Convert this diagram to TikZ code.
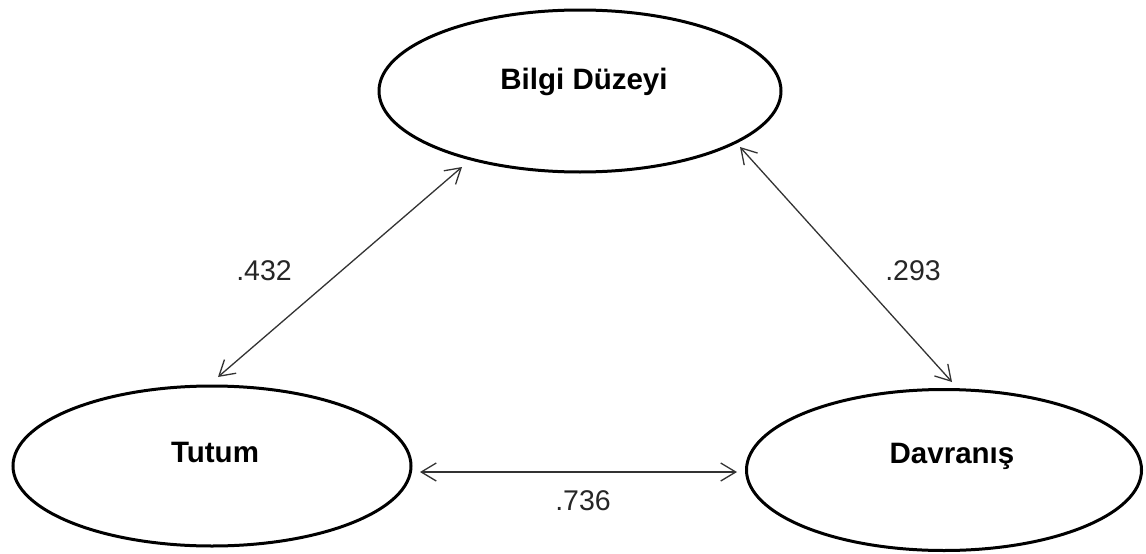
\documentclass[tikz,border=0pt]{standalone}
\usepackage{fontspec}
\setmainfont{Liberation Sans}
\usetikzlibrary{arrows.meta,calc,shapes.geometric}
\begin{document}
\begin{tikzpicture}[x=1pt,y=-1pt,
  latent/.style={draw=black,line width=3pt,ellipse,inner sep=0pt},
  lbl/.style={anchor=base,font=\fontsize{29.5}{35}\selectfont\bfseries},
  num/.style={anchor=base,font=\fontsize{28.5}{34}\selectfont,text=black!85},
  cov/.style={draw=black!80,line width=1.3pt,{Straight Barb[length=15pt,width=18pt,line width=1.3pt]}-{Straight Barb[length=15pt,width=18pt,line width=1.3pt]}}]
\useasboundingbox (0,0) rectangle (1146,554);
\fill[white] (0,0) rectangle (1146,554);
\node[latent,minimum width=402pt,minimum height=162pt] (bilgi) at (580,91) {};
\node[latent,minimum width=398pt,minimum height=160pt] (tutum) at (212,466) {};
\node[latent,minimum width=395pt,minimum height=161pt] (dav) at (944,470) {};
\node[lbl] (tb) at (584,89) {Bilgi Düzeyi};
\node[lbl] (tt) at (215,462) {Tutum};
\node[lbl] (td) at (952,463) {Davranış};
\draw[cov] ($(tutum.center)+(6,-89)$) -- ($(bilgi.center)+(-118,76)$);
\draw[cov] ($(bilgi.center)+(160,56)$) -- ($(dav.center)+(8,-88)$);
\draw[cov] ($(tutum.center)+(208,6)$) -- ($(dav.center)+(-207,2)$);
\node[num] (n1) at (264,280) {.432};
\node[num] (n2) at (913,280) {.293};
\node[num] (n3) at (583,510) {.736};
\end{tikzpicture}
\end{document}
